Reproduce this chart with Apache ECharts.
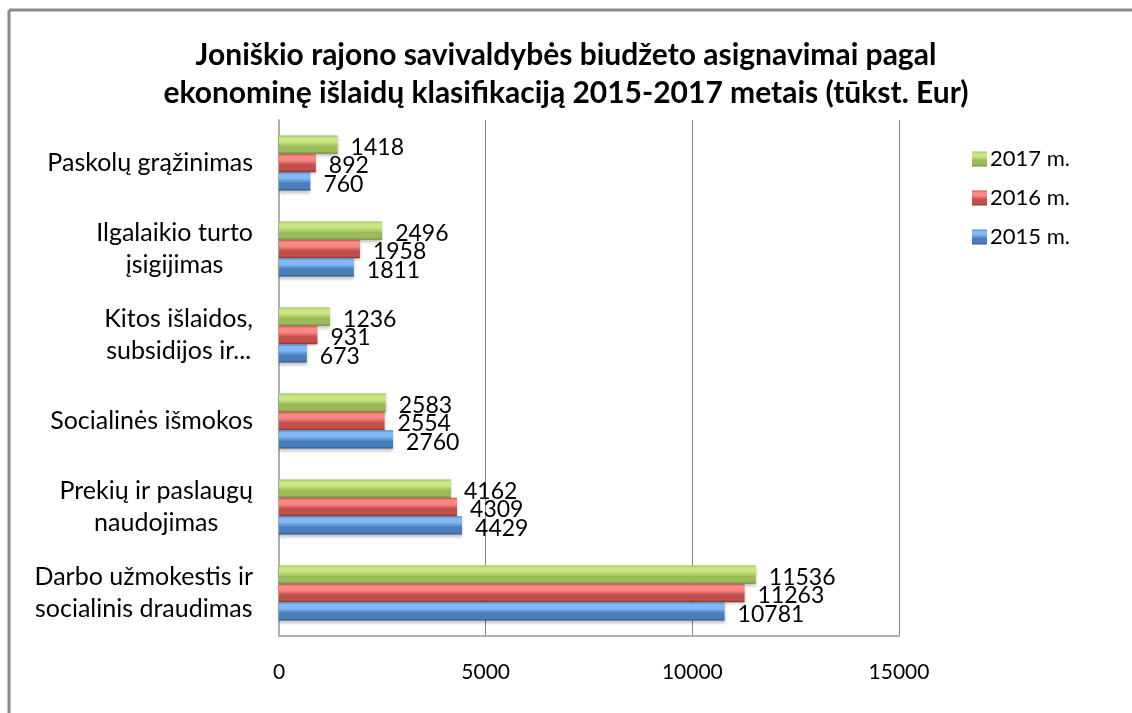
<!DOCTYPE html>
<html><head><meta charset="utf-8">
<script src="https://cdn.jsdelivr.net/npm/echarts@6/dist/echarts.min.js"></script>
<style>html,body{margin:0;padding:0;background:#fff}#c{width:1132px;height:713px}</style>
</head><body><div id="c"></div>
<script>
const titleText = 'Joniškio rajono savivaldybės biudžeto asignavimai pagal\nekonominę išlaidų klasifikaciją 2015-2017 metais (tūkst. Eur)';
const categories = ['Darbo užmokestis ir\nsocialinis draudimas','Prekių ir paslaugų\nnaudojimas','Socialinės išmokos','Kitos išlaidos,\nsubsidijos ir...','Ilgalaikio turto\nįsigijimas','Paskolų grąžinimas'];
const seriesNames = ['2017 m.','2016 m.','2015 m.'];
const v2017 = [11536, 4162, 2583, 1236, 2496, 1418];
const v2016 = [11263, 4309, 2554, 931, 1958, 892];
const v2015 = [10781, 4429, 2760, 673, 1811, 760];
const xTicks = [0, 5000, 10000, 15000];

const FONT = 'Lato, "Noto Sans", sans-serif';
function grad(light, mid, dark){
  return new echarts.graphic.LinearGradient(0,0,0,1,[
    {offset:0,color:mid},{offset:0.12,color:light},{offset:0.35,color:light},{offset:0.6,color:mid},{offset:0.88,color:mid},{offset:1,color:dark}]);
}
const styles = [
  grad('#c9e783','#9bbb59','#6a8636'),
  grad('#fd8885','#c0504d','#8a2f2c'),
  grad('#82b8f5','#4a7ebb','#2b548a')
];
const legendColors = ['#9bbb59','#c0504d','#4f81bd'];
const dataSets = [v2017, v2016, v2015];

const chart = echarts.init(document.getElementById('c'));
chart.setOption({
  backgroundColor:'#fff',
  animation:false,
  color:legendColors,
  title:{text:titleText,left:'center',top:31,textStyle:{fontFamily:FONT,fontSize:30,fontWeight:'bold',color:'#000',lineHeight:38}},
  legend:{orient:'vertical',left:967,top:143,itemWidth:15,itemHeight:15,itemGap:17,icon:'rect',
    data:seriesNames,
    textStyle:{fontFamily:FONT,fontSize:22,lineHeight:22,color:'#000',padding:[0,0,0,-2]}},
  grid:{left:279,right:233,top:120,bottom:77},
  xAxis:{type:'value',min:0,max:15000,interval:5000,
    axisLine:{show:true,lineStyle:{color:'#b0b0b0',width:2}},axisTick:{show:false},
    splitLine:{lineStyle:{color:'#868686',width:1}},
    axisLabel:{fontFamily:FONT,fontSize:21,color:'#000',margin:26,
      formatter:v=>xTicks.includes(v)?String(v):''}},
  yAxis:{type:'category',data:categories,
    axisLine:{lineStyle:{color:'#b0b0b0',width:2}},axisTick:{show:false},
    axisLabel:{fontFamily:FONT,fontSize:25,color:'#000',margin:26,
      formatter:v=>v.split('\n').map(s=>'{a|'+s+'}').join('\n'),
      rich:{a:{fontFamily:FONT,fontSize:25,color:'#000',align:'center',lineHeight:32}}}},
  series:dataSets.map((d,i)=>({
    name:seriesNames[i],type:'bar',data:d,barGap:'0%',barCategoryGap:'36%',
    itemStyle:{color:styles[i],shadowColor:'rgba(0,0,0,0.25)',shadowBlur:3,shadowOffsetY:2},
    label:{show:true,position:'right',distance:13,offset:[0,3],fontFamily:FONT,fontSize:23,color:'#000'}
  })),
  graphic:[
    {type:'line',shape:{x1:9,y1:10,x2:1132,y2:10},style:{stroke:'#8a8a8a',lineWidth:3},silent:true},
    {type:'line',shape:{x1:9,y1:10,x2:9,y2:713},style:{stroke:'#8a8a8a',lineWidth:3},silent:true}
  ]
});
</script></body></html>
